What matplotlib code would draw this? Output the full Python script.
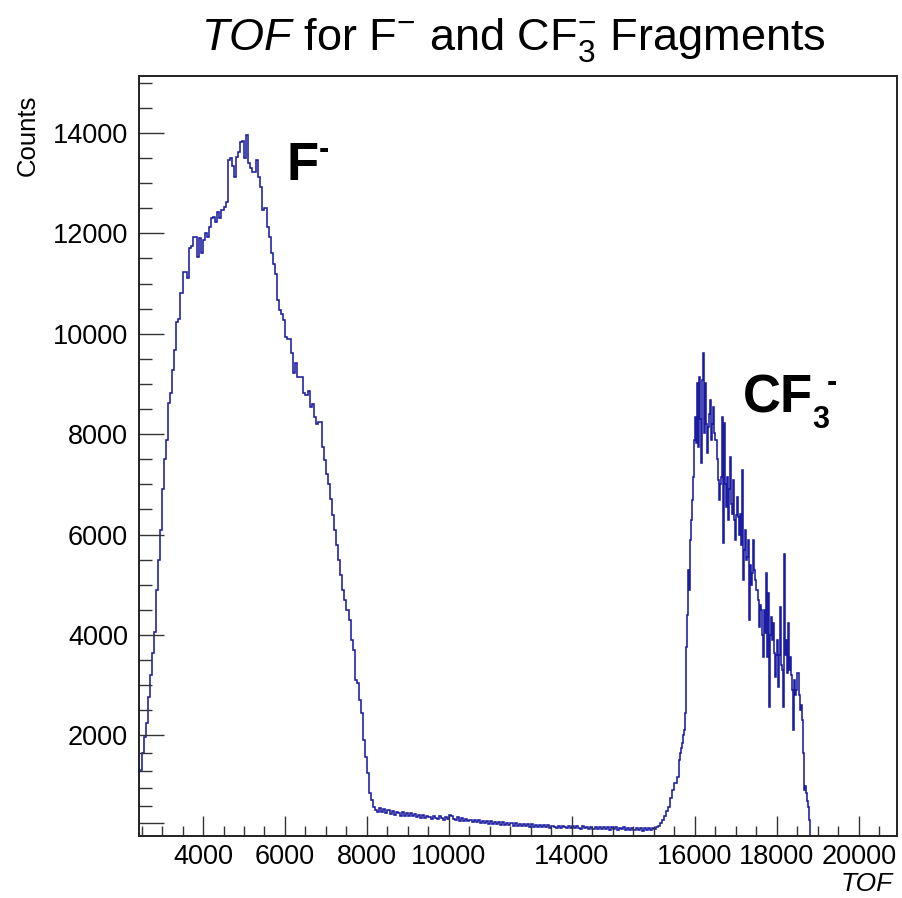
import numpy as np
import matplotlib
matplotlib.use("Agg")
import matplotlib.pyplot as plt

# ---------------- data (histogram of TOF) ----------------
bin_start = 2400          # left edge of first bin
coarse_width = 50         # bin width up to 15600
fine_width = 25           # bin width in the CF3- region

# 2400 - 3050
f_rise = [1150, 1310, 1650, 1970, 2250, 2770, 3200, 3640, 4060, 4900, 5500, 6100, 6900, 7500]
# 3100 - 5050
f_peak = [7880, 8620, 8820, 9280, 9680, 10230, 10300, 10810, 11230, 11230,
          11110, 11700, 11750, 11930, 11930, 11530, 11900, 11600, 11870, 12000,
          11930, 12130, 12300, 12330, 12220, 12420, 12300, 12470, 12530, 12620,
          13460, 13500, 13350, 13120, 13520, 13620, 13820, 13850, 13500, 13960]
# 5100 - 6950
f_fall = [13410, 13300, 13220, 13220, 13460, 13120, 12920, 12470, 12500, 12130,
          11930, 11600, 11400, 11200, 10670, 10480, 10400, 10270, 9940, 9900,
          9900, 9610, 9210, 9420, 9140, 9140, 9140, 8820, 8780, 8860,
          8540, 8600, 8340, 8200, 8240, 8240, 7750, 7490]
# 7000 - 8250
f_tail = [7200, 7000, 6700, 6400, 6100, 5800, 5500, 5200, 4900, 4700,
          4500, 4300, 3900, 3700, 3100, 3040, 2700, 2450, 1910, 1570,
          1250, 860, 710, 570, 510, 480]
# 8300 - 14950
valley = [560, 470, 530, 455, 505, 430, 490, 420, 475, 455, 400, 465, 395, 445,
          395, 445, 385, 425, 370, 420, 355, 405, 350, 400, 375, 335, 395, 345, 330, 385, 350, 320, 375, 340,
          410, 390, 335, 315, 365, 300, 345, 295, 335, 285, 320, 270, 320, 265, 305, 260, 300, 250, 295, 245,
          285, 240, 280, 235, 270, 220, 275, 225, 255, 210, 255, 205, 250, 200, 245, 195, 240, 195, 235, 185,
          230, 185, 225, 180, 220, 170, 215, 170, 210, 160, 205, 175, 160, 205, 155, 200, 170, 150, 195, 160,
          190, 150, 195, 160, 140, 190, 150, 185, 135, 180, 145, 185, 130, 175, 140, 180, 135, 170, 125, 175,
          135, 170, 120, 165, 130, 170, 115, 160, 125, 165, 110, 155, 125, 160, 105, 155, 120, 160, 110, 150]
# 15000 - 15550
cf_rise = [140, 170, 200, 260, 315, 400, 500, 575, 750, 910, 1050, 1170]
# 15600 - 18775 (25-wide bins)
cf_peak = [1500, 1650, 1750, 1850, 2000, 2110, 2450, 3770, 4400, 5300, 4900, 5900, 6300, 6690, 7150, 7890,
           8340, 7820, 9020, 7750, 9140, 8300, 7420, 9080, 9610, 8020, 9020, 8200, 7620, 8140, 8400, 8680,
           7890, 8200, 8540, 8020, 7890, 7500, 7090, 6690, 7000, 7150, 8340, 5830, 8220, 7000, 6550, 7150,
           6290, 6900, 7550, 6600, 6420, 7090, 6300, 5900, 6400, 6750, 6350, 6000, 6420, 5800, 7290, 5100,
           5700, 6090, 5500, 5560, 5900, 4300, 5400, 5000, 5230, 5900, 5300, 5100, 4900, 4700, 4160, 4600,
           4500, 4000, 3570, 4500, 4040, 5230, 3570, 4830, 2560, 4000, 4360, 3900, 4230, 3640, 3170, 3600,
           3900, 2970, 3600, 4560, 3400, 3300, 2560, 5620, 3600, 3900, 3240, 4230, 3300, 3570, 3200, 2900,
           2110, 3100, 2800, 2900, 3240, 2800, 2500, 2600, 2310, 1650, 910, 1000, 850, 700, 570, 310]

x_major_ticks = [4000, 6000, 8000, 10000, 13000, 16000, 18000, 20000]
x_major_labels = ["4000", "6000", "8000", "10000", "14000", "16000", "18000", "20000"]
y_major_ticks = [2000, 4000, 6000, 8000, 10000, 12000, 14000]
y_major_labels = ["2000", "4000", "6000", "8000", "10000", "12000", "14000"]

# ---------------- build histogram ----------------
coarse = f_rise + f_peak + f_fall + f_tail + valley + cf_rise
fine = cf_peak
values = np.array(coarse + fine, dtype=float)
edges_c = bin_start + coarse_width * np.arange(len(coarse) + 1)
edges_f = edges_c[-1] + fine_width * np.arange(1, len(fine) + 1)
edges = np.concatenate([edges_c, edges_f])

plt.rcParams['font.family'] = ['Liberation Sans', 'DejaVu Sans']
plt.rcParams['mathtext.fontset'] = 'custom'
plt.rcParams['mathtext.rm'] = 'Liberation Sans'
plt.rcParams['mathtext.it'] = 'Liberation Sans:italic'
plt.rcParams['mathtext.bf'] = 'Liberation Sans:bold'

W, H = 902, 898
fig = plt.figure(figsize=(W / 100, H / 100), dpi=100)
ax = fig.add_axes([139 / W, 1 - 835.8 / H, (897 - 139) / W, (835.8 - 76) / H])

ax.stairs(values, edges, baseline=0, fill=False, color='#1c1ca0', lw=1.15)

ax.set_xlim(2439, 20927)
ax.set_ylim(0, 15135)

ax.set_xticks(x_major_ticks)
ax.set_xticklabels(x_major_labels)
x_minor = [v for v in np.arange(2500, 20600, 500) if v not in x_major_ticks]
ax.set_xticks(x_minor, minor=True)

ax.set_yticks(y_major_ticks + [250])
ax.set_yticklabels(y_major_labels + [""])
y_minor = [v for v in np.arange(2500, 15100, 500) if v not in y_major_ticks] + [600, 950, 1300, 1650]
ax.set_yticks(y_minor, minor=True)

tick_col = '#333333'
ax.tick_params(axis='x', which='major', direction='in', length=14.5, width=1.0,
               color=tick_col, labelsize=19.5, pad=6, top=False)
ax.tick_params(axis='x', which='minor', direction='in', length=7.2, width=1.0,
               color=tick_col, top=False)
ax.tick_params(axis='y', which='major', direction='in', length=18, width=1.0,
               color=tick_col, labelsize=19.5, pad=8, right=False)
ax.tick_params(axis='y', which='minor', direction='in', length=9, width=1.0,
               color=tick_col, right=False)
for s in ax.spines.values():
    s.set_linewidth(1.4)
    s.set_color('#222222')

# titles / labels
fig.text(513 / W, 1 - 50 / H, r"$\mathit{TOF}$ for F$^{-}$ and CF$_{3}^{-}$ Fragments",
         ha='center', va='baseline', fontsize=32.5)
fig.text(28 / W, 1 - 95 / H, "Counts", rotation=90, ha='center', va='top', fontsize=18.5)
fig.text(893 / W, 1 - 891 / H, "TOF", style='italic', ha='right', va='baseline', fontsize=19)

# peak annotations
fig.text(287 / W, 1 - 180 / H, "F", fontweight='bold', fontsize=38, ha='left', va='baseline')
fig.text(319 / W, 1 - 158 / H, "-", fontweight='bold', fontsize=22, ha='left', va='baseline')
fig.text(743 / W, 1 - 412 / H, "CF", fontweight='bold', fontsize=38, ha='left', va='baseline')
fig.text(812 / W, 1 - 428 / H, "3", fontweight='bold', fontsize=22, ha='left', va='baseline')
fig.text(827 / W, 1 - 391 / H, "-", fontweight='bold', fontsize=22, ha='left', va='baseline')

fig.savefig("out.png", dpi=100)
